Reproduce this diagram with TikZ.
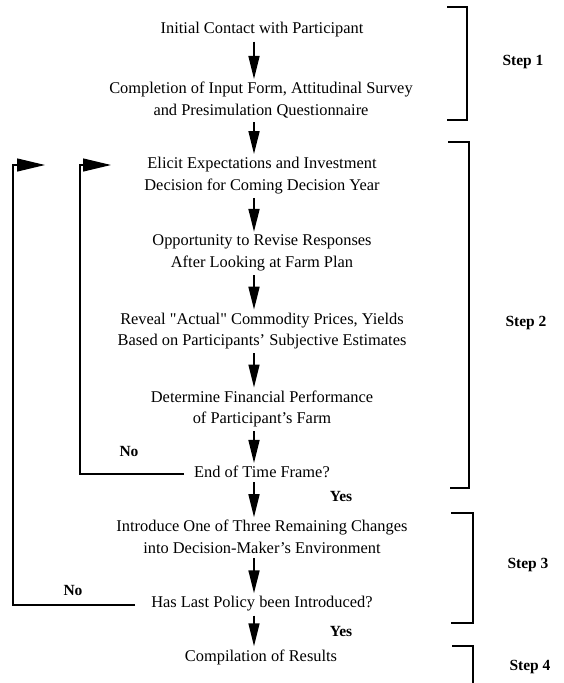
\documentclass[tikz,border=0pt]{standalone}
\usepackage{fontspec}
\setmainfont{Liberation Serif}
\newfontfamily\qfont{Liberation Serif}
\usetikzlibrary{arrows.meta,calc}
\tikzset{
  txt/.style={font=\fontsize{16.4}{21.5}\selectfont, align=center, inner sep=0pt},
  lbl/.style={font=\fontsize{15.5}{18}\selectfont\bfseries, inner sep=0pt},
  flow/.style={line width=1.6pt, -{Triangle[length=23pt,width=11pt]}, shorten <=4pt, shorten >=3pt},
  loopline/.style={line width=1.2pt, -{Triangle[length=28pt,width=13pt]}},
  bracket/.style={line width=1.3pt}
}
\begin{document}
\begin{tikzpicture}[x=1pt,y=-1pt]
\useasboundingbox (0,0) rectangle (563,683);
\coordinate (ax) at (254,0);
\node[txt] (n1) at (262,30) {Initial Contact with Participant};
\node[txt] (n2) at (261,100) {Completion of Input Form, Attitudinal Survey\\and Presimulation Questionnaire};
\node[txt] (n3) at (262,175.5) {Elicit Expectations and Investment\\Decision for Coming Decision Year};
\node[txt] (n4) at (262,253) {Opportunity to Revise Responses\\After Looking at Farm Plan};
\node[txt] (n5) at (262,331) {Reveal {\qfont"}Actual{\qfont"} Commodity Prices, Yields\\Based on Participants' Subjective Estimates};
\node[txt] (n6) at (262,409) {Determine Financial Performance\\of Participant's Farm};
\node[txt] (n7) at (262,472) {End of Time Frame?};
\node[txt] (n8) at (262,537) {Introduce One of Three Remaining Changes\\into Decision-Maker's Environment};
\node[txt] (n9) at (262,604) {Has Last Policy been Introduced?};
\node[txt] (n10) at (261,657) {Compilation of Results};

\foreach \a/\b in {n1/n2,n2/n3,n3/n4,n4/n5,n5/n6,n6/n7,n7/n8,n8/n9,n9/n10}
  \draw[flow] (ax |- \a.south) -- (ax |- \b.north);

\node[lbl] (no1) at (129,451) {No};
\node[lbl] (yes1) at (341,496) {Yes};
\node[lbl] (no2) at (73,590) {No};
\node[lbl] (yes2) at (341,631) {Yes};

\coordinate (c1) at (80,165);
\coordinate (t1) at (111,165);
\coordinate (c2) at (13,165);
\coordinate (t2) at (45,165);
\draw[loopline] ($(n7.west)+(-10,2)$) -| (c1) -- (t1);
\draw[loopline] ($(n9.west)+(-16,1)$) -| (c2) -- (t2);

\draw[bracket] (447,7) -- (467,7) -- (467,120) -- (447,120);
\draw[bracket] (448,142) -- (469,142) -- (469,488) -- (450,488);
\draw[bracket] (451,513) -- (473,513) -- (473,623) -- (451,623);
\draw[bracket] (452,646) -- (473,646) -- (473,690);

\node[lbl] (s1) at (523,62) {Step 1};
\node[lbl] (s2) at (526,323) {Step 2};
\node[lbl] (s3) at (528,565) {Step 3};
\node[lbl] (s4) at (530,667) {Step 4};
\end{tikzpicture}
\end{document}
